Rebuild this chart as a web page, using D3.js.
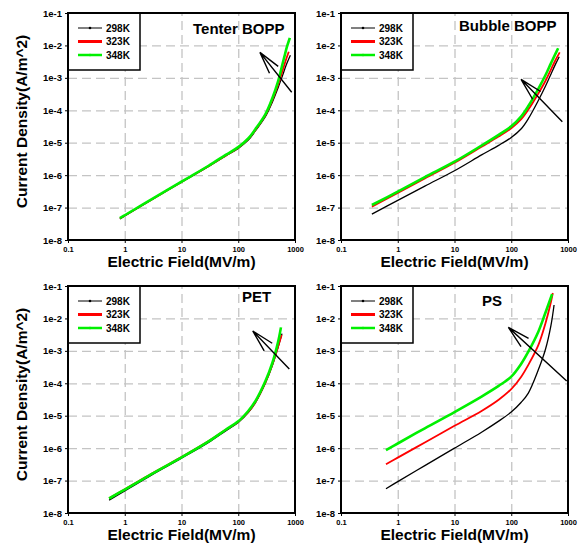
<!DOCTYPE html>
<html>
<head>
<meta charset="utf-8">
<script src="https://cdn.jsdelivr.net/npm/d3@7/dist/d3.min.js"></script>
<style>
    body { margin: 0; background: #fff; }
    svg text { font-family: 'Liberation Sans', Arial, sans-serif; font-weight: bold; fill: #000; }
</style>
</head>
<body>
<div id="chart"></div>
<script>
// legend / ticks
var temps = ['298K', '323K', '348K'];
var xTicks = [0.1, 1, 10, 100, 1000];
var xTickLabels = ['0.1', '1', '10', '100', '1000'];
var yTicks = [1e-8, 1e-7, 1e-6, 1e-5, 1e-4, 1e-3, 1e-2, 1e-1];
var yTickLabels = ['1e-8', '1e-7', '1e-6', '1e-5', '1e-4', '1e-3', '1e-2', '1e-1'];

// [field MV/m, current density A/m^2]
var tenter298 = [[0.82,4.5e-8],[1,5.5e-8],[3,1.75e-7],[10,6.1e-7],[30,1.85e-6],[60,3.9e-6],[100,6.7e-6],[150,1.2e-5],[200,2.3e-5],[300,6.3e-5],[400,1.8e-4],[500,4.8e-4],[600,1.15e-3],[700,2.5e-3],[830,5e-3]];
var tenter323 = [[0.82,4.6e-8],[1,5.7e-8],[3,1.78e-7],[10,6.2e-7],[30,1.9e-6],[60,4.0e-6],[100,7.0e-6],[150,1.3e-5],[200,2.45e-5],[300,7e-5],[400,2.1e-4],[500,6e-4],[600,1.6e-3],[700,3.8e-3],[776,6.4e-3]];
var tenter348 = [[0.82,4.7e-8],[1,5.8e-8],[3,1.81e-7],[10,6.3e-7],[30,1.95e-6],[60,4.2e-6],[100,7.3e-6],[150,1.35e-5],[200,2.6e-5],[300,7.5e-5],[400,2.4e-4],[500,7.5e-4],[600,2.6e-3],[650,4.5e-3],[720,9e-3],[810,1.7e-2]];

var bubble298 = [[0.35,6.3e-8],[1,1.66e-7],[3,4.6e-7],[10,1.37e-6],[30,4.2e-6],[60,8.3e-6],[100,1.45e-5],[150,2.7e-5],[200,5.5e-5],[300,2.0e-4],[400,5.5e-4],[500,1.3e-3],[600,2.6e-3],[700,4.5e-3]];
var bubble323 = [[0.35,1.07e-7],[1,2.8e-7],[3,7.9e-7],[10,2.4e-6],[30,7.5e-6],[60,1.55e-5],[100,2.8e-5],[150,5.3e-5],[200,1.05e-4],[300,3.3e-4],[400,8e-4],[500,1.8e-3],[600,3.5e-3],[715,6.1e-3]];
var bubble348 = [[0.35,1.2e-7],[1,3.1e-7],[3,8.7e-7],[10,2.6e-6],[30,8.2e-6],[60,1.75e-5],[100,3.2e-5],[150,6.5e-5],[200,1.35e-4],[300,4.6e-4],[400,1.2e-3],[500,2.8e-3],[600,5.5e-3],[670,8.2e-3]];

var pet298 = [[0.53,2.5e-8],[1,4.8e-8],[3,1.5e-7],[10,4.9e-7],[30,1.5e-6],[60,3.4e-6],[100,6.2e-6],[150,1.25e-5],[200,2.5e-5],[300,1.0e-4],[400,3.6e-4],[500,1.25e-3],[590,3.4e-3]];
var pet323 = [[0.53,2.85e-8],[1,5.4e-8],[3,1.65e-7],[10,5.3e-7],[30,1.65e-6],[60,3.7e-6],[100,6.5e-6],[150,1.3e-5],[200,2.6e-5],[300,1.05e-4],[400,3.8e-4],[500,1.3e-3],[582,3.1e-3]];
var pet348 = [[0.53,2.8e-8],[1,5.3e-8],[3,1.6e-7],[10,5.2e-7],[30,1.62e-6],[60,3.7e-6],[100,6.7e-6],[150,1.4e-5],[200,2.8e-5],[300,1.15e-4],[400,4.3e-4],[500,1.8e-3],[566,5.3e-3]];

var ps298 = [[0.62,5.6e-8],[1,9.3e-8],[3,2.9e-7],[10,1.0e-6],[30,3.1e-6],[60,6.8e-6],[100,1.3e-5],[150,2.6e-5],[200,5e-5],[300,2.6e-4],[400,1.1e-3],[500,6e-3],[568,2.6e-2]];
var ps323 = [[0.62,3.2e-7],[1,5.1e-7],[3,1.5e-6],[10,4.9e-6],[30,1.4e-5],[60,3.1e-5],[100,6.6e-5],[150,1.6e-4],[200,3.7e-4],[300,1.5e-3],[400,7e-3],[500,3.2e-2],[540,6.1e-2]];
var ps348 = [[0.62,8.7e-7],[1,1.39e-6],[3,4.1e-6],[10,1.3e-5],[30,3.9e-5],[60,8.3e-5],[100,1.6e-4],[150,4e-4],[200,9.4e-4],[300,3.9e-3],[400,1.5e-2],[524,5.6e-2]];

// arrows: [tail, tip] in data coords
var tenterArrow = [[875,3.6e-4],[241,6.1e-3]];
var bubbleArrow = [[794,4.4e-5],[149,9e-4]];
var petArrow = [[794,2.75e-4],[180,4.1e-3]];
var psArrow = [[948,1.17e-4],[89,5.3e-3]];

var colors = ['#000000', '#ff0000', '#00f000'];
var widths = [1.3, 1.8, 2.6];
var legendWidths = [1, 3, 2.5];

var size = 227;
var panels = [
    {title: 'Tenter BOPP', series: [tenter298, tenter323, tenter348], arrow: tenterArrow, left: 68, top: 13, tx: 125, ty: 21, yTitle: true},
    {title: 'Bubble BOPP', series: [bubble298, bubble323, bubble348], arrow: bubbleArrow, left: 341, top: 13, tx: 118, ty: 18, yTitle: false},
    {title: 'PET', series: [pet298, pet323, pet348], arrow: petArrow, left: 68, top: 286, tx: 174, ty: 16, yTitle: true},
    {title: 'PS', series: [ps298, ps323, ps348], arrow: psArrow, left: 341, top: 286, tx: 141, ty: 20, yTitle: false}
];

var svg = d3.select('#chart').append('svg')
    .attr('width', 581)
    .attr('height', 548);

var x = d3.scaleLog().domain([0.1, 1000]).range([0, size]);
var y = d3.scaleLog().domain([1e-8, 1e-1]).range([size, 0]);

var line = d3.line()
    .x(function(d) { return x(d[0]); })
    .y(function(d) { return y(d[1]); })
    .curve(d3.curveCatmullRom.alpha(0.5));

panels.forEach(function(p) {
    var g = svg.append('g').attr('transform', 'translate(' + p.left + ',' + p.top + ')');

    // dashed grid
    function gridStyle(sel) {
        sel.select('.domain').remove();
        sel.selectAll('text').remove();
        sel.selectAll('line')
            .style('stroke', '#c4c4c4')
            .style('stroke-width', 1.3)
            .style('stroke-dasharray', '9,5');
    }
    g.append('g').attr('transform', 'translate(0,' + size + ')')
        .call(d3.axisBottom(x).tickValues(xTicks.slice(1, -1)).tickSize(-size))
        .call(gridStyle);
    g.append('g')
        .call(d3.axisLeft(y).tickValues(yTicks.slice(1, -1)).tickSize(-size))
        .call(gridStyle);

    // tick labels
    var xa = g.append('g').attr('transform', 'translate(0,' + size + ')')
        .call(d3.axisBottom(x).tickValues(xTicks).tickSize(3).tickPadding(4)
            .tickFormat(function(d, i) { return xTickLabels[i]; }));
    xa.select('.domain').remove();
    xa.selectAll('line').style('stroke', '#000');
    xa.selectAll('text').style('font-size', '7.5px').style('font-family', "'Liberation Sans', Arial, sans-serif").style('font-weight', 'bold');

    var ya = g.append('g')
        .call(d3.axisLeft(y).tickValues(yTicks).tickSize(3).tickPadding(3)
            .tickFormat(function(d, i) { return yTickLabels[i]; }));
    ya.select('.domain').remove();
    ya.selectAll('line').style('stroke', '#000');
    ya.selectAll('text').style('font-size', '9.5px').style('font-family', "'Liberation Sans', Arial, sans-serif").style('font-weight', 'bold');

    // legend
    var lg = g.append('g');
    lg.append('rect')
        .attr('x', 0).attr('y', 0)
        .attr('width', 72).attr('height', 57)
        .style('fill', '#fff')
        .style('stroke', '#000')
        .style('stroke-width', 1.5);
    temps.forEach(function(t, i) {
        var ly = 15 + i * 13.5;
        lg.append('line')
            .attr('x1', 10).attr('x2', 34)
            .attr('y1', ly).attr('y2', ly)
            .style('stroke', colors[i])
            .style('stroke-width', legendWidths[i]);
        lg.append('circle')
            .attr('cx', 22).attr('cy', ly).attr('r', 1.3)
            .style('fill', colors[i]);
        lg.append('text').text(t)
            .attr('x', 38).attr('y', ly + 3.5)
            .style('font-size', '10px');
    });

    // curves
    p.series.forEach(function(s, i) {
        g.append('path')
            .datum(s)
            .attr('d', line)
            .style('fill', 'none')
            .style('stroke', colors[i])
            .style('stroke-width', widths[i])
            .style('stroke-linejoin', 'round');
    });

    // arrow
    var tail = [x(p.arrow[0][0]), y(p.arrow[0][1])];
    var tip = [x(p.arrow[1][0]), y(p.arrow[1][1])];
    var ang = Math.atan2(tail[1] - tip[1], tail[0] - tip[0]);
    var headLen = 23, headAng = 14 * Math.PI / 180;
    var arrowPath = 'M' + tail[0] + ',' + tail[1] + 'L' + tip[0] + ',' + tip[1] +
        'M' + (tip[0] + headLen * Math.cos(ang + headAng)) + ',' + (tip[1] + headLen * Math.sin(ang + headAng)) +
        'L' + tip[0] + ',' + tip[1] +
        'L' + (tip[0] + headLen * Math.cos(ang - headAng)) + ',' + (tip[1] + headLen * Math.sin(ang - headAng));
    g.append('path')
        .attr('d', arrowPath)
        .style('fill', 'none')
        .style('stroke', '#000')
        .style('stroke-width', 1.4);

    // frame
    g.append('rect')
        .attr('width', size).attr('height', size)
        .style('fill', 'none')
        .style('stroke', '#000')
        .style('stroke-width', 2);

    // panel title
    g.append('text').text(p.title)
        .attr('x', p.tx).attr('y', p.ty)
        .style('font-size', '15px');

    // axis titles
    g.append('text').text('Electric Field(MV/m)')
        .attr('x', size / 2)
        .attr('y', size + 27)
        .attr('text-anchor', 'middle')
        .style('font-size', '15.5px');
    if (p.yTitle) {
        g.append('text').text('Current Density(A/m^2)')
            .attr('transform', 'translate(' + (27 - p.left) + ',' + (size / 2 - 5) + ') rotate(-90)')
            .attr('text-anchor', 'middle')
            .style('font-size', '15.5px');
    }
});
</script>
</body>
</html>
